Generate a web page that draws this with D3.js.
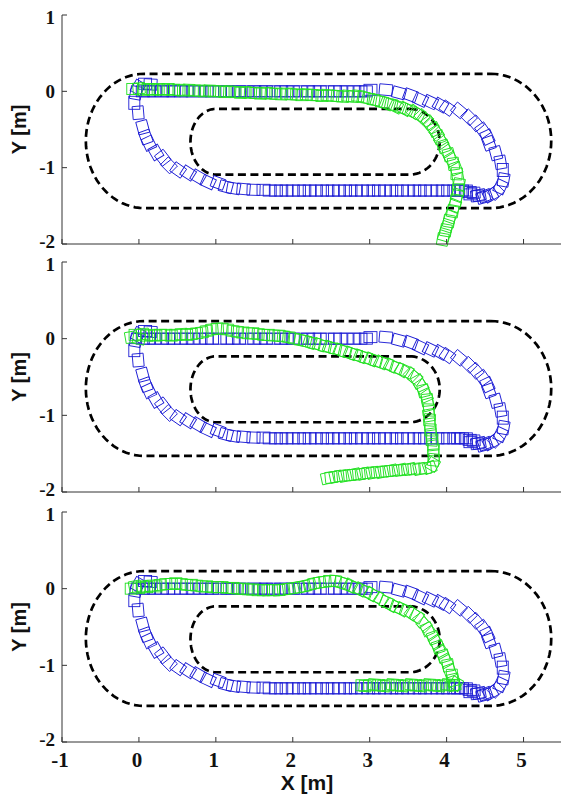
<!DOCTYPE html>
<html><head><meta charset="utf-8">
<script src="https://cdn.jsdelivr.net/npm/d3@7"></script>
<style>body{margin:0;background:#fff}svg{display:block}</style>
</head><body><svg id="c" width="561" height="796"></svg>
<script>
// ---------- data ----------
const xDomain = [-1, 5.5];
const yDomain = [-2, 1];
const xTicks = [-1, 0, 1, 2, 3, 4, 5];
const yTicks = [-2, -1, 0, 1];
const xLabel = "X [m]";
const yLabel = "Y [m]";
// track: [left cap centre x, right cap centre x, top y, bottom y]
const outerTrack = [0.07, 4.57, 0.23, -1.53];
const outerCapRx = [0.76, 0.79];
const innerTrack = [1.0, 3.52, -0.23, -1.09];
const innerCapRx = [0.33, 0.39];

// reference path poses [x, y, heading deg] (same in all panels)
const bluePoses = [
 [0.08,0.1,0],[0.15,0.09,-3],
 [0.05,0,0],[0.12,0,0],[0.2,0,0],[0.3,0,0],[0.38,0,0],[0.45,0,0],[0.55,0,0],[0.62,0,0],[0.7,0,0],
 [0.8,0,0],[0.88,0,0],[0.95,0,0],[1.05,0,0],[1.15,0,0],[1.22,0,0],[1.3,0,0],[1.4,0,0],[1.5,0,0],
 [1.58,0,0],[1.65,0,0],[1.75,0,0],[1.85,0,0],[1.92,0,0],[2.0,0,0],[2.1,0,0],[2.2,0,0],[2.28,0,0],
 [2.35,0,0],[2.45,0,0],[2.55,0,0],[2.62,0,0],[2.7,0,0],[2.8,0,0],[2.88,0,0],[2.95,0,0],
 [3.01,0.02,0],[3.21,0.02,-5],[3.38,-0.02,-15],[3.53,-0.05,-20],[3.66,-0.11,-25],[3.79,-0.14,-25],
 [3.92,-0.18,-30],[4.01,-0.22,-35],[4.16,-0.25,-40],[4.29,-0.34,-45],[4.38,-0.42,-50],[4.47,-0.51,-55],
 [4.53,-0.6,-65],[4.55,-0.68,-70],[4.64,-0.81,-75],[4.7,-0.93,-80],[4.73,-1.03,-90],[4.74,-1.16,-100],
 [4.7,-1.25,-115],[4.64,-1.32,-135],[4.57,-1.36,-150],[4.5,-1.37,-160],[4.48,-1.39,-165],[4.42,-1.36,-170],
 [4.4,-1.37,-175],[4.35,-1.33,-178],[4.31,-1.35,180],[4.3,-1.32,180],
 [4.25,-1.3,180],[4.2,-1.3,180],[4.15,-1.3,180],[4.1,-1.3,180],[4.02,-1.3,180],[3.95,-1.3,180],
 [3.88,-1.3,180],[3.8,-1.3,180],[3.72,-1.3,180],[3.65,-1.3,180],[3.58,-1.3,180],[3.5,-1.3,180],
 [3.42,-1.3,180],[3.35,-1.3,180],[3.28,-1.3,180],[3.2,-1.3,180],[3.12,-1.3,180],[3.05,-1.3,180],
 [2.98,-1.3,180],[2.9,-1.3,180],[2.82,-1.3,180],[2.75,-1.3,180],[2.68,-1.3,180],[2.6,-1.3,180],
 [2.52,-1.3,180],[2.45,-1.3,180],[2.38,-1.3,180],[2.3,-1.3,180],[2.22,-1.3,180],[2.15,-1.3,180],
 [2.08,-1.3,180],[2.0,-1.3,180],[1.92,-1.3,180],[1.85,-1.3,180],[1.78,-1.3,180],[1.7,-1.3,180],
 [1.62,-1.29,180],[1.49,-1.29,178],[1.36,-1.28,175],[1.23,-1.27,170],[1.13,-1.25,165],[1.03,-1.2,160],
 [0.9,-1.19,155],[0.77,-1.12,150],[0.64,-1.07,148],[0.51,-1.03,145],[0.39,-0.97,135],[0.31,-0.87,128],
 [0.22,-0.8,120],[0.13,-0.68,115],[0.09,-0.6,110],[0.05,-0.47,105],[-0.01,-0.28,95],[-0.06,-0.15,90],
 [-0.04,-0.02,80],[-0.01,0.05,60]
];

// robot path poses, panel 1
const greenPoses1 = [
 [-0.08,0.03,0],[0.0,0.04,5],[0.06,0.02,0],[0.12,0.03,0],[0.18,0.02,-2],[0.25,0.03,0],[0.32,0.02,0],
 [0.38,0.03,0],[0.45,0.02,0],[0.52,0.02,0],[0.58,0.01,0],[0.65,0.02,-2],[0.72,0.01,0],[0.78,0.01,0],
 [0.85,0.0,0],[0.92,0.01,-2],[0.98,0.0,0],[1.05,0.0,-2],[1.12,-0.01,0],[1.18,0.0,-3],[1.25,-0.01,0],
 [1.32,-0.02,-2],[1.38,-0.01,0],[1.45,-0.02,-3],[1.52,-0.02,0],[1.58,-0.03,-2],[1.65,-0.02,0],
 [1.72,-0.03,-3],[1.78,-0.03,0],[1.85,-0.04,-2],[1.92,-0.03,0],[1.98,-0.04,-3],[2.05,-0.04,-2],
 [2.12,-0.05,0],[2.18,-0.04,-3],[2.25,-0.05,-2],[2.32,-0.05,-3],[2.38,-0.06,0],[2.45,-0.05,-4],
 [2.52,-0.06,-3],[2.58,-0.06,-5],[2.65,-0.07,-3],[2.72,-0.06,-5],[2.78,-0.07,-4],
 [2.85,-0.06,-6],[2.92,-0.08,-8],[2.98,-0.09,-14],[3.05,-0.11,-8],[3.1,-0.12,-18],[3.16,-0.14,-10],
 [3.22,-0.16,-22],[3.28,-0.17,-12],[3.34,-0.2,-26],[3.4,-0.21,-16],[3.46,-0.23,-30],[3.52,-0.25,-20],
 [3.58,-0.27,-36],[3.63,-0.3,-26],[3.68,-0.33,-46],[3.73,-0.37,-38],[3.77,-0.41,-56],[3.8,-0.45,-45],
 [3.84,-0.5,-64],[3.87,-0.55,-52],[3.9,-0.6,-68],[3.93,-0.66,-55],[3.96,-0.72,-72],[3.99,-0.77,-58],
 [4.03,-0.83,-75],[4.06,-0.89,-60],[4.09,-0.95,-82],[4.12,-1.01,-70],[4.13,-1.08,-92],[4.15,-1.15,-80],
 [4.16,-1.22,-100],[4.15,-1.29,-90],[4.14,-1.36,-110],[4.12,-1.43,-98],[4.1,-1.5,-112],[4.08,-1.57,-100],
 [4.05,-1.64,-110],[4.03,-1.7,-100],[4.01,-1.76,-108],[3.99,-1.82,-100],[3.97,-1.88,-106],[3.95,-1.94,-100]
];

// robot path poses, panel 2
const greenPoses2 = [
 [-0.1,0.02,10],[-0.05,0.05,0],[0.0,0.0,-10],[0.05,0.06,5],[0.1,0.04,0],[0.16,0.05,0],[0.22,0.04,0],
 [0.28,0.05,0],[0.35,0.05,0],[0.42,0.04,0],[0.48,0.05,0],[0.55,0.06,3],[0.62,0.05,0],[0.68,0.06,0],
 [0.75,0.07,3],[0.82,0.08,5],[0.88,0.1,5],[0.95,0.12,5],[1.02,0.13,3],[1.08,0.13,0],[1.15,0.12,-3],
 [1.22,0.1,-5],[1.28,0.09,-3],[1.35,0.08,0],[1.42,0.07,-2],[1.48,0.07,0],[1.55,0.06,-3],[1.62,0.05,-2],
 [1.68,0.05,0],[1.75,0.04,-3],[1.82,0.04,-2],[1.88,0.03,-4],[1.95,0.02,-5],[2.02,0.0,-8],[2.1,-0.02,-10],
 [2.16,-0.03,-12],[2.22,-0.05,-18],[2.28,-0.06,-10],[2.35,-0.08,-20],[2.42,-0.1,-12],[2.48,-0.11,-20],
 [2.55,-0.13,-12],[2.62,-0.15,-22],[2.68,-0.17,-14],[2.75,-0.19,-22],[2.82,-0.21,-14],[2.88,-0.23,-22],
 [2.95,-0.25,-14],[3.02,-0.27,-24],[3.08,-0.29,-16],[3.15,-0.31,-26],[3.22,-0.33,-16],[3.28,-0.35,-28],
 [3.35,-0.38,-18],[3.42,-0.41,-32],[3.48,-0.43,-24],[3.54,-0.47,-44],[3.59,-0.51,-36],[3.63,-0.56,-62],
 [3.67,-0.62,-55],[3.7,-0.68,-76],[3.73,-0.74,-66],[3.75,-0.8,-84],[3.76,-0.86,-74],[3.77,-0.93,-92],
 [3.77,-1.0,-80],[3.78,-1.06,-94],[3.78,-1.12,-82],[3.79,-1.19,-92],[3.8,-1.25,-82],[3.81,-1.32,-94],
 [3.82,-1.38,-84],[3.83,-1.45,-94],[3.83,-1.52,-86],[3.83,-1.58,-96],[3.82,-1.64,-120],[3.78,-1.68,-160],
 [3.72,-1.69,-175],[3.65,-1.7,-168],[3.58,-1.7,-174],[3.52,-1.7,-168],[3.46,-1.71,-174],[3.4,-1.71,-168],
 [3.34,-1.72,-174],[3.28,-1.72,-168],[3.22,-1.73,-174],[3.16,-1.74,-168],[3.1,-1.74,-174],[3.04,-1.75,-168],
 [2.98,-1.75,-174],[2.92,-1.76,-168],[2.86,-1.77,-174],[2.8,-1.77,-168],[2.74,-1.78,-174],[2.68,-1.79,-168],
 [2.62,-1.79,-174],[2.56,-1.8,-168],[2.5,-1.81,-174],[2.45,-1.82,-168]
];

// robot path poses, panel 3
const greenPoses3 = [
 [-0.1,0.0,0],[-0.05,0.03,10],[0.0,0.01,-5],[0.05,0.03,5],[0.1,0.02,0],[0.16,0.04,3],[0.22,0.03,0],
 [0.28,0.05,3],[0.35,0.06,2],[0.42,0.06,0],[0.48,0.07,0],[0.55,0.06,-2],[0.62,0.05,-2],[0.68,0.05,0],
 [0.75,0.04,-2],[0.82,0.03,-2],[0.88,0.03,0],[0.95,0.02,-2],[1.02,0.02,0],[1.08,0.02,0],[1.15,0.01,-2],
 [1.22,0.01,0],[1.28,0.0,-2],[1.35,0.0,0],[1.42,-0.01,-2],[1.48,-0.01,0],[1.55,-0.02,0],[1.62,-0.02,0],
 [1.68,-0.02,2],[1.75,-0.02,0],[1.82,-0.02,3],[1.88,-0.01,5],[1.95,0.0,8],[2.02,0.01,10],[2.08,0.02,12],
 [2.15,0.03,12],[2.22,0.05,12],[2.28,0.07,10],[2.35,0.08,8],[2.42,0.09,5],[2.48,0.1,0],[2.55,0.1,-5],
 [2.62,0.08,-15],[2.68,0.06,-20],[2.75,0.04,-28],[2.82,0.01,-18],[2.88,-0.01,-30],[2.95,-0.04,-20],
 [3.02,-0.07,-32],[3.08,-0.1,-22],[3.15,-0.14,-34],[3.22,-0.18,-22],[3.28,-0.21,-30],[3.35,-0.24,-20],
 [3.42,-0.27,-30],[3.48,-0.29,-22],[3.55,-0.32,-38],[3.61,-0.36,-30],[3.66,-0.41,-54],[3.71,-0.47,-45],
 [3.75,-0.53,-66],[3.79,-0.58,-55],[3.83,-0.64,-70],[3.86,-0.7,-58],[3.89,-0.76,-72],[3.93,-0.82,-60],
 [3.96,-0.88,-74],[3.99,-0.94,-62],[4.02,-1.0,-80],[4.04,-1.07,-70],[4.07,-1.13,-88],[4.09,-1.19,-78],
 [4.12,-1.24,-120],[4.1,-1.26,-170],[4.08,-1.26,180],[4.02,-1.25,176],[3.96,-1.26,182],[3.9,-1.27,176],
 [3.84,-1.26,182],[3.78,-1.25,176],[3.72,-1.26,182],[3.66,-1.27,176],[3.6,-1.26,182],[3.54,-1.25,176],
 [3.48,-1.26,182],[3.42,-1.27,176],[3.36,-1.26,182],[3.3,-1.25,176],[3.24,-1.26,182],[3.18,-1.27,176],
 [3.12,-1.26,182],[3.06,-1.25,176],[3.0,-1.26,182],[2.94,-1.27,176],[2.9,-1.26,180]
];
const greenSets = [greenPoses1, greenPoses2, greenPoses3];

// ---------- layout ----------
const W = 561, H = 796;
const panelTop = [15, 262, 512];
const panelBottom = [244, 492, 742];
const xRange = [62, 562];
const blueColor = "#1c1cd4";
const greenColor = "#22e022";
const serif = "'Liberation Serif','Times New Roman',serif";
const sans = "'Liberation Sans',Arial,sans-serif";

const svg = d3.select("#c");
svg.append("rect").attr("width", W).attr("height", H).attr("fill", "#fff");
const x = d3.scaleLinear().domain(xDomain).range(xRange);

function trackPoints(t, rx) {
  const [xl, xr, yt, yb] = t;
  const cy = (yt + yb) / 2, ry = (yt - yb) / 2;
  const pts = [];
  const n = 40;
  for (let i = 0; i <= n; i++) { const a = Math.PI/2 - Math.PI * i / n; pts.push([xr + rx[1]*Math.cos(a), cy + ry*Math.sin(a)]); }
  for (let i = 0; i <= n; i++) { const a = -Math.PI/2 - Math.PI * i / n; pts.push([xl + rx[0]*Math.cos(a), cy + ry*Math.sin(a)]); }
  pts.push(pts[0]);
  return pts;
}

panelTop.forEach((top, p) => {
  const y = d3.scaleLinear().domain(yDomain).range([panelBottom[p], top]);
  const g = svg.append("g");

  const line = d3.line().x(d => x(d[0])).y(d => y(d[1]));
  [[outerTrack, outerCapRx], [innerTrack, innerCapRx]].forEach(([t, rx]) => {
    g.append("path").attr("d", line(trackPoints(t, rx)))
      .attr("fill", "none").attr("stroke", "#000").attr("stroke-width", 2.7)
      .attr("stroke-dasharray", "8,4.5");
  });

  const drawPoses = (data, color, L, Wd) => {
    g.append("g").selectAll("rect").data(data).join("rect")
      .attr("x", -L/2).attr("y", -Wd/2).attr("width", L).attr("height", Wd)
      .attr("transform", d => `translate(${x(d[0])},${y(d[1])}) rotate(${-d[2]})`)
      .attr("fill", "none").attr("stroke", color).attr("stroke-width", 0.9);
  };
  drawPoses(bluePoses, blueColor, 13, 11);
  drawPoses(greenSets[p], greenColor, 12, 11);

  const ax = g.append("g").attr("stroke", "#333").attr("stroke-width", 1);
  ax.append("line").attr("x1", xRange[0]).attr("x2", xRange[1]).attr("y1", panelBottom[p]).attr("y2", panelBottom[p]);
  ax.append("line").attr("x1", xRange[0]).attr("x2", xRange[0]).attr("y1", top).attr("y2", panelBottom[p]);
  xTicks.forEach(t => ax.append("line").attr("x1", x(t)).attr("x2", x(t)).attr("y1", panelBottom[p]).attr("y2", panelBottom[p] - 5));
  yTicks.forEach(t => ax.append("line").attr("x1", xRange[0]).attr("x2", xRange[0] + 5).attr("y1", y(t)).attr("y2", y(t)));

  yTicks.forEach(t => g.append("text").attr("x", 55).attr("y", y(t))
    .attr("dy", t === yDomain[0] ? "0.22em" : (t === yDomain[1] ? "0.45em" : "0.35em"))
    .attr("text-anchor", "end").attr("font-family", serif).attr("font-weight", "bold")
    .attr("font-size", 19).attr("fill", "#111").text(t));

  g.append("text").attr("transform", `translate(26,${(top + panelBottom[p]) / 2}) rotate(-90)`)
    .attr("text-anchor", "middle").attr("font-family", sans).attr("font-weight", "bold")
    .attr("font-size", 20).attr("fill", "#111").text(yLabel);

  if (p === 2) {
    xTicks.forEach(t => g.append("text").attr("x", x(t) - 2).attr("y", panelBottom[p] + 18).attr("dy", "0.35em")
      .attr("text-anchor", "middle").attr("font-family", serif).attr("font-weight", "bold")
      .attr("font-size", 21).attr("fill", "#111").text(t));
    g.append("text").attr("x", 307).attr("y", 790).attr("text-anchor", "middle")
      .attr("font-family", sans).attr("font-weight", "bold").attr("font-size", 21)
      .attr("fill", "#111").text(xLabel);
  }
});
</script></body></html>
